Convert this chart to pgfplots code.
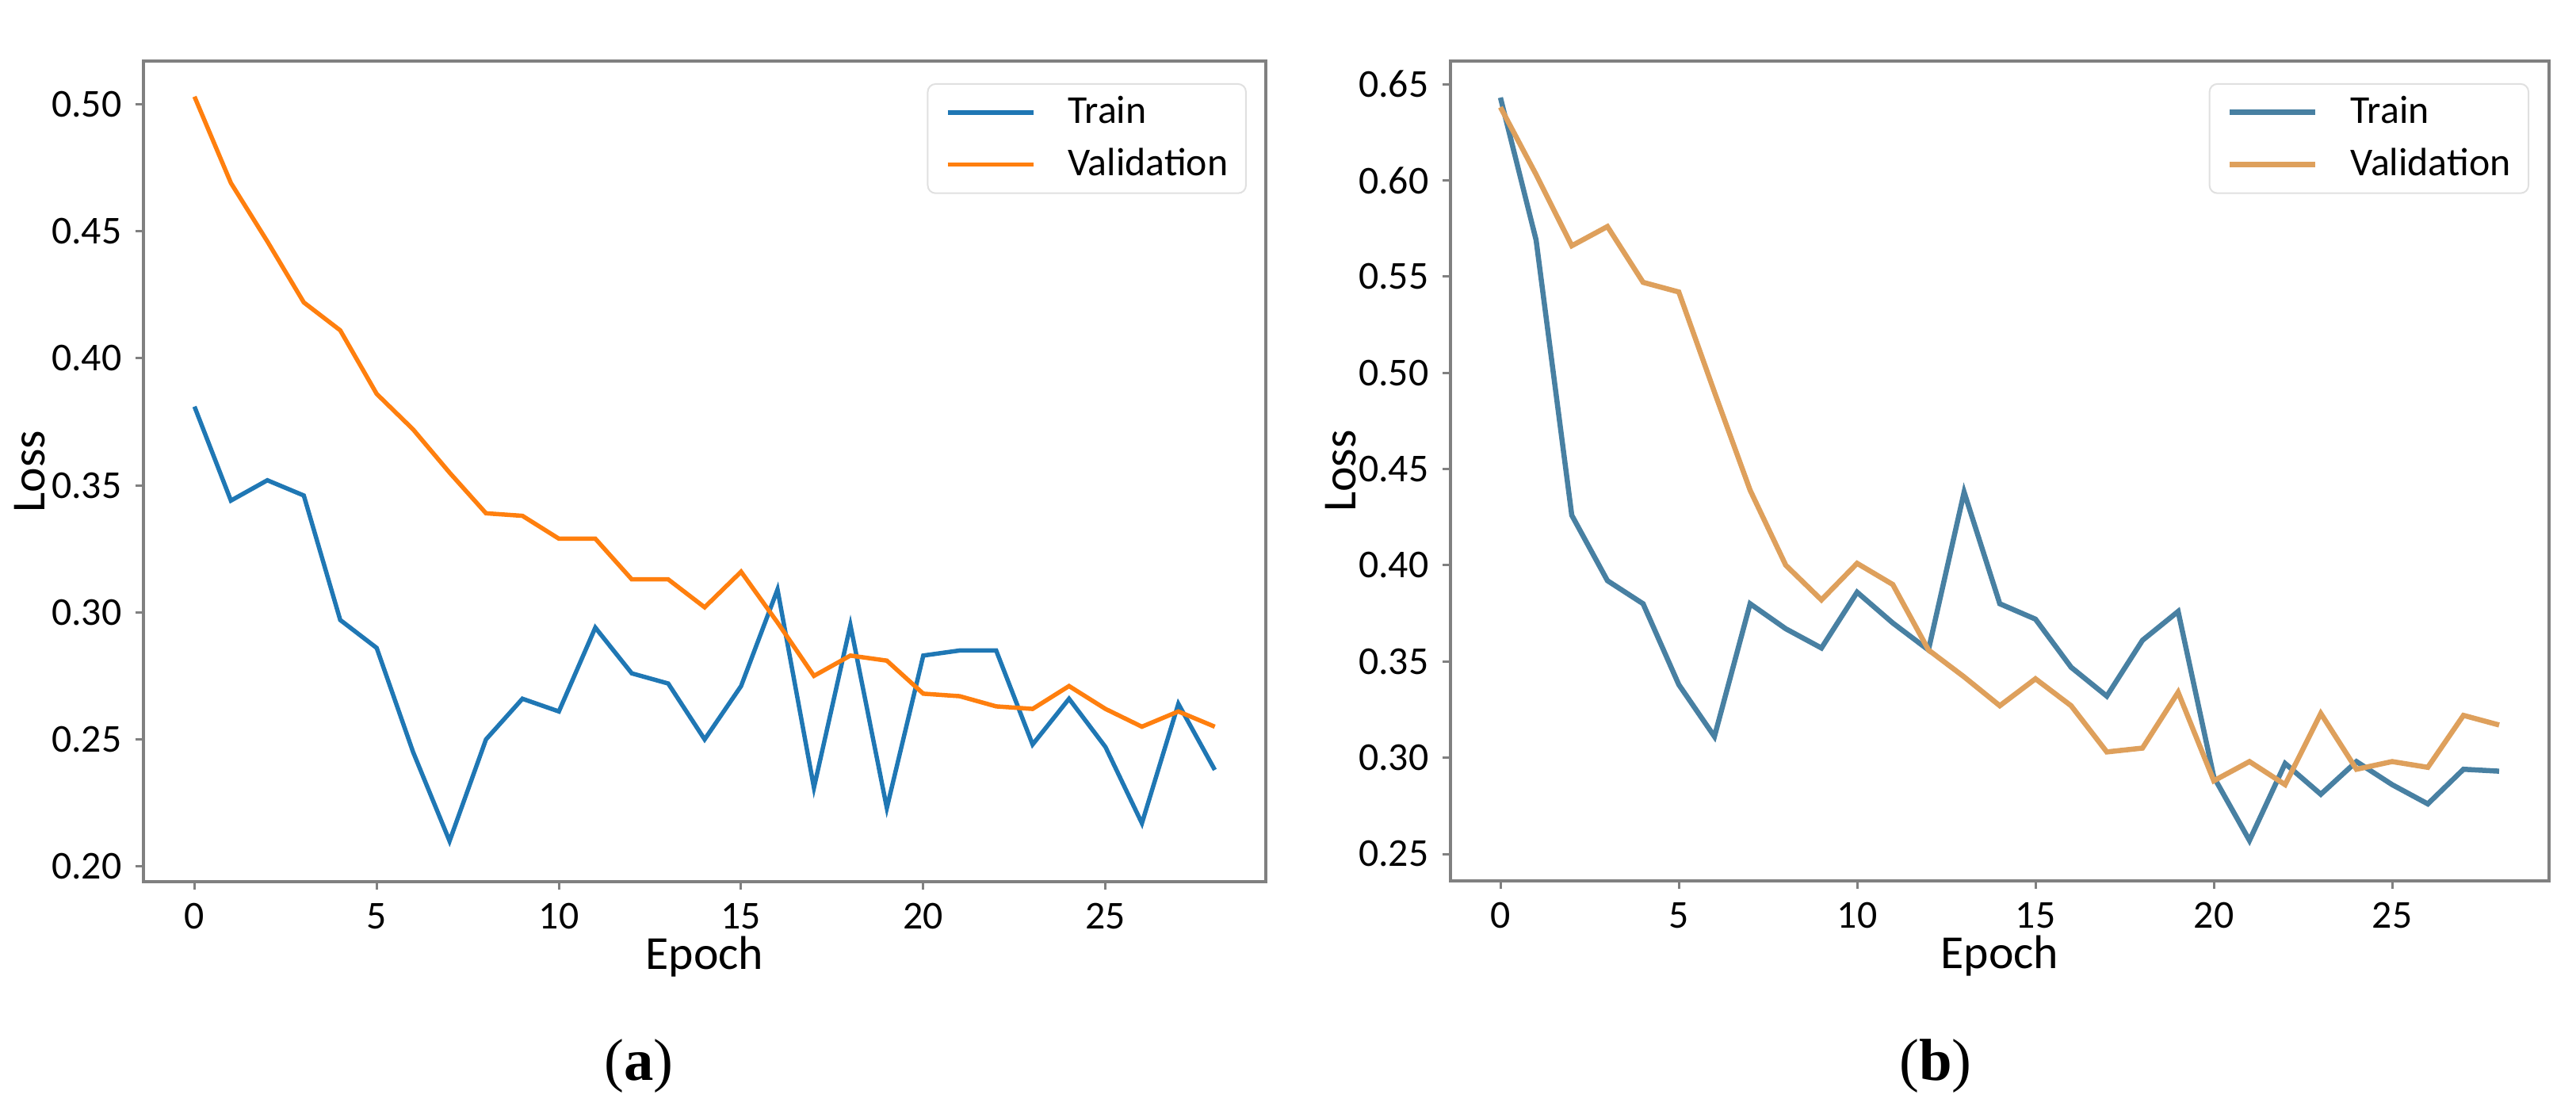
\documentclass[border=0pt]{standalone}
\usepackage{fontspec}
\setmainfont{Carlito}
\newfontfamily\capfont{Liberation Serif}
\usepackage{pgfplots}
\pgfplotsset{compat=1.18}

\definecolor{mblue}{RGB}{31,119,180}
\definecolor{morange}{RGB}{255,127,14}
\definecolor{bblue}{RGB}{72,128,162}
\definecolor{borange}{RGB}{222,160,92}
\definecolor{framegray}{RGB}{128,128,128}

% Panel (a)
\pgfplotstableread{
ep train val
0  0.381 0.503
1  0.344 0.469
2  0.352 0.446
3  0.346 0.422
4  0.297 0.411
5  0.286 0.386
6  0.245 0.372
7  0.210 0.355
8  0.250 0.339
9  0.266 0.338
10 0.261 0.329
11 0.294 0.329
12 0.276 0.313
13 0.272 0.313
14 0.250 0.302
15 0.271 0.316
16 0.309 0.296
17 0.231 0.275
18 0.295 0.283
19 0.223 0.281
20 0.283 0.268
21 0.285 0.267
22 0.285 0.263
23 0.248 0.262
24 0.266 0.271
25 0.247 0.262
26 0.217 0.255
27 0.264 0.261
28 0.238 0.255
}\lossA

% Panel (b)
\pgfplotstableread{
ep train val
0  0.643 0.638
1  0.569 0.603
2  0.426 0.566
3  0.392 0.576
4  0.380 0.547
5  0.338 0.542
6  0.311 0.490
7  0.380 0.439
8  0.367 0.400
9  0.357 0.382
10 0.386 0.401
11 0.370 0.390
12 0.356 0.356
13 0.438 0.342
14 0.380 0.327
15 0.372 0.341
16 0.347 0.327
17 0.332 0.303
18 0.361 0.305
19 0.376 0.334
20 0.290 0.288
21 0.257 0.298
22 0.297 0.286
23 0.281 0.323
24 0.298 0.294
25 0.286 0.298
26 0.276 0.295
27 0.294 0.322
28 0.293 0.317
}\lossB

\pgfplotsset{
  lossaxis/.style={
    scale only axis,
    anchor=south west,
    xmin=-1.4, xmax=29.4,
    xtick={0,5,10,15,20,25},
    tick pos=left,
    tick align=outside,
    major tick length=2bp,
    tick style={color=framegray, line width=0.6bp},
    axis line style={color=framegray, line width=0.8bp},
    ticklabel style={font=\fontsize{10}{12}\selectfont},
    /pgf/number format/assume math mode=true,
    yticklabel style={/pgf/number format/fixed, /pgf/number format/fixed zerofill, /pgf/number format/precision=2},
    scaled y ticks=false,
    label style={font=\fontsize{12}{14}\selectfont},
    xlabel={Epoch},
    ylabel={Loss},
    xlabel style={at={(axis description cs:0.5,0)}, anchor=base, yshift=-22.2bp},
    legend cell align=left,
    legend style={anchor=north east, draw=black!12, fill=white, rounded corners=2bp,
      font=\fontsize{10}{12}\selectfont, inner xsep=4.5bp, inner ysep=3bp,
      nodes={inner sep=0pt}, row sep=4.8bp,
      /tikz/every odd column/.append style={column sep=8.2bp}},
    legend image code/.code={\draw[##1] (0bp,0bp) -- (21.6bp,0bp);},
  }
}

\begin{document}
\begin{tikzpicture}
\useasboundingbox (0,0) rectangle (650bp,281bp);

\begin{axis}[lossaxis,
  at={(36.2bp,58.6bp)}, width=283.2bp, height=207bp,
  ymin=0.194, ymax=0.517,
  ytick={0.20,0.25,0.30,0.35,0.40,0.45,0.50},
  ylabel style={at={(axis description cs:-0.101,0.5)}, anchor=center},
  legend style={at={(0.983,0.973)}},
]
\addplot[color=mblue, line width=1.1bp] table[x=ep, y=train] {\lossA};
\addlegendentry{Train}
\addplot[color=morange, line width=1.1bp] table[x=ep, y=val] {\lossA};
\addlegendentry{Validation}
\end{axis}

\begin{axis}[lossaxis,
  at={(366bp,58.8bp)}, width=277.2bp, height=206.8bp,
  ymin=0.236, ymax=0.662,
  ytick={0.25,0.30,0.35,0.40,0.45,0.50,0.55,0.60,0.65},
  ylabel style={at={(axis description cs:-0.0996,0.5)}, anchor=center},
  legend style={at={(0.982,0.973)}},
]
\addplot[color=bblue, line width=1.3bp] table[x=ep, y=train] {\lossB};
\addlegendentry{Train}
\addplot[color=borange, line width=1.3bp] table[x=ep, y=val] {\lossB};
\addlegendentry{Validation}
\end{axis}

\node[anchor=base, font=\capfont\fontsize{15}{18}\selectfont] at (161.2bp,8.6bp) {(\textbf{a})};
\node[anchor=base, font=\capfont\fontsize{15}{18}\selectfont] at (488.4bp,8.6bp) {(\textbf{b})};
\end{tikzpicture}
\end{document}
